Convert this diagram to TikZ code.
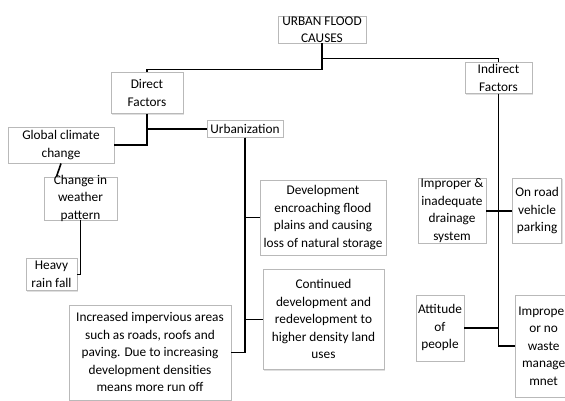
\documentclass[tikz,border=0pt]{standalone}
\usepackage{fontspec}
\setmainfont{Carlito}
\usepackage{tikz}
\usetikzlibrary{positioning, shadows}

\begin{document}
\begin{tikzpicture}[
    x=1pt, y=-1pt,
    cause_box/.style 2 args={rectangle, draw=gray!55, fill=white, line width=0.6pt, inner sep=-30pt, align=center,
        minimum width=#1, minimum height=#2, font=\fontsize{13.3}{17.5}\selectfont,
        drop shadow={shadow xshift=1pt, shadow yshift=-1.2pt, opacity=0.25}},
    link/.style={line width=1.6pt, black}
]
\path [use as bounding box, fill=white] (0,0) rectangle (565,400);

\node (root) [cause_box={88}{27}] at (322,29.5) {URBAN FLOOD\\CAUSES};
\node (direct) [cause_box={72}{41}, below=29pt of root, xshift=-175pt] {Direct\\Factors};
\node (indirect) [cause_box={67}{31}, below=19pt of root, xshift=176.5pt] {Indirect\\Factors};
\node (urban) [cause_box={76}{17}, below=6pt of direct, xshift=98pt] {Urbanization};
\node (global) [cause_box={106}{36}, below=13pt of direct, xshift=-86pt] {Global climate\\change};
\node (weather) [cause_box={73}{43}, below=13pt of global, xshift=19.5pt] {Change in\\weather\\pattern};
\node (rain) [cause_box={51}{32}, below=38pt of weather, xshift=-29pt] {Heavy\\rain fall};
\node (encroach) [cause_box={126}{75}, below=42pt of urban, xshift=78pt] {Development\\encroaching flood\\plains and causing\\loss of natural storage};
\node (density) [cause_box={121}{100}, below=14pt of encroach, xshift=0.5pt] {Continued\\development and\\redevelopment to\\higher density land\\uses};
\node (impervious) [cause_box={162}{95}, below=167pt of urban, xshift=-95pt] {Increased impervious areas\\such as roads, roofs and\\paving. Due to increasing\\development densities\\means more run off};
\node (drainage) [cause_box={68}{65}, below=84pt of indirect, xshift=-46.5pt] {Improper \&\\inadequate\\drainage\\system};
\node (parking) [cause_box={49}{65}, right=26pt of drainage] {On road\\vehicle\\parking};
\node (attitude) [cause_box={48}{66}, below=51pt of drainage, xshift=-12pt] {Attitude\\of\\people};
\node (waste) [cause_box={56}{102}, right=51pt of attitude, yshift=-18pt] {Improper\\or no\\waste\\manage\\mnet};

\draw [link] (root.south) -- ([yshift=-26pt]root.south) -| (direct.north);
\draw [link] (indirect.north) |- ([yshift=-15pt]root.south);
\draw [link] (direct.south) |- (urban.west);
\draw [link] (direct.south) |- (global.east);
\draw [link] (global.south) -- ([xshift=-24pt]weather.north);
\draw [link] (weather.south) |- (rain.east);
\draw [link] (urban.south) |- (encroach.west);
\draw [link] (urban.south) |- (density.west);
\draw [link] (urban.south) |- (impervious.east);
\draw [link] (indirect.south) |- (drainage.east);
\draw [link] (indirect.south) |- (parking.west);
\draw [link] (indirect.south) |- (attitude.east);
\draw [link] (indirect.south) |- (waste.west);
\end{tikzpicture}
\end{document}
